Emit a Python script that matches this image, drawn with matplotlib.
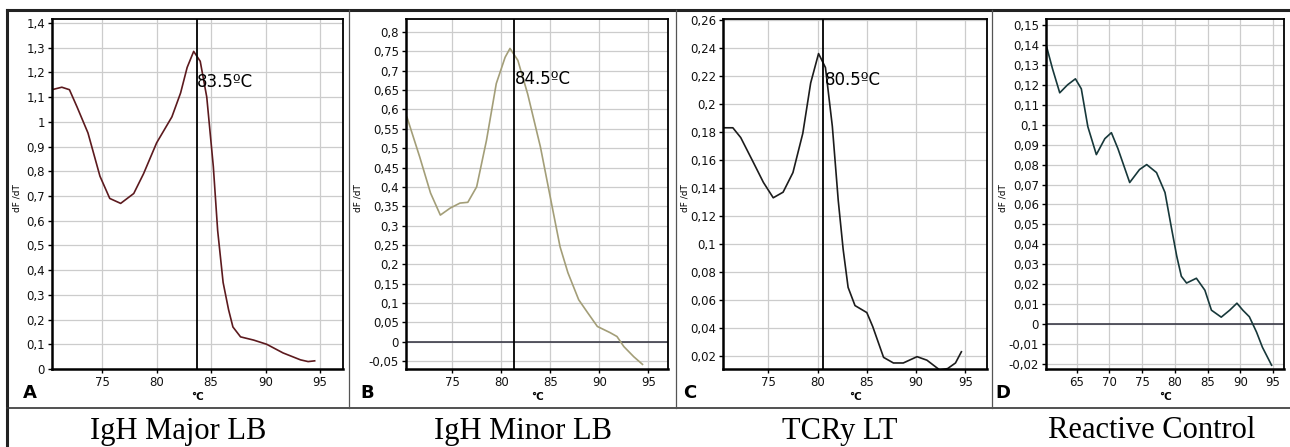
import matplotlib
matplotlib.use('Agg')
import matplotlib.pyplot as plt
from matplotlib.lines import Line2D
from matplotlib.ticker import FuncFormatter, MultipleLocator
import numpy as np

# Curvas de melting (dF/dT) - 4 paineis

# A - IgH Major LB
tempA = [70.4, 71.3, 72.0, 72.7, 73.7, 74.8, 75.7, 76.7, 77.9, 78.8, 80.0, 81.4, 82.2, 82.8, 83.4,
         84.0, 84.6, 85.2, 85.6, 86.1, 86.6, 87.0, 87.7, 88.9, 90.1, 91.6, 93.2, 93.9, 94.5]
dfA = [1.13, 1.14, 1.13, 1.06, 0.955, 0.78, 0.69, 0.67, 0.71, 0.79, 0.915, 1.02, 1.117, 1.22, 1.285,
       1.245, 1.10, 0.82, 0.56, 0.35, 0.24, 0.17, 0.13, 0.117, 0.10, 0.065, 0.037, 0.03, 0.033]

# B - IgH Minor LB
tempB = [70.4, 71.7, 72.8, 73.8, 74.8, 75.8, 76.6, 77.5, 78.5, 79.5, 80.4, 80.9, 81.7, 82.7,
         84.0, 85.3, 86.0, 86.8, 87.9, 88.8, 89.8, 91.1, 91.8, 92.5, 93.5, 94.4]
dfB = [0.58, 0.477, 0.384, 0.327, 0.345, 0.358, 0.36, 0.40, 0.52, 0.667, 0.735, 0.758, 0.727, 0.64,
       0.503, 0.335, 0.245, 0.178, 0.108, 0.075, 0.039, 0.023, 0.013, -0.013, -0.039, -0.059]

# C - TCRy LT
tempC = [70.4, 71.4, 72.2, 73.5, 74.5, 75.5, 76.5, 77.5, 78.5, 79.3, 80.1, 80.8, 81.5, 82.1,
         82.6, 83.1, 83.8, 85.0, 85.6, 86.7, 87.7, 88.7, 90.1, 91.1, 92.4, 93.2, 94.0, 94.6]
dfC = [0.183, 0.183, 0.176, 0.158, 0.144, 0.133, 0.137, 0.151, 0.179, 0.215, 0.236, 0.226, 0.184, 0.131,
       0.096, 0.069, 0.056, 0.051, 0.041, 0.019, 0.015, 0.015, 0.0195, 0.017, 0.010, 0.011, 0.015, 0.023]

# D - Reactive Control
tempD = [60.4, 61.3, 62.4, 63.6, 64.8, 65.7, 66.7, 68.0, 69.3, 70.3, 71.3, 73.1, 74.6, 75.7,
         77.2, 78.5, 79.5, 80.3, 81.0, 81.8, 83.3, 84.6, 85.6, 87.1, 88.4, 89.5, 90.4, 91.4,
         92.5, 93.4, 94.8]
dfD = [0.139, 0.128, 0.116, 0.120, 0.123, 0.118, 0.099, 0.085, 0.093, 0.096, 0.088, 0.071, 0.0775, 0.080,
       0.076, 0.066, 0.048, 0.034, 0.024, 0.0206, 0.023, 0.017, 0.007, 0.0035, 0.007, 0.0105, 0.007, 0.0037,
       -0.004, -0.0116, -0.0206]

temps = [tempA, tempB, tempC, tempD]
dfs = [dfA, dfB, dfC, dfD]
letras = ['A', 'B', 'C', 'D']
titulos = ['IgH Major LB', 'IgH Minor LB', 'TCRy LT', 'Reactive Control']
tm_linha = [83.7, 81.3, 80.6, None]
tm_texto = ['83.5ºC', '84.5ºC', '80.5ºC', None]
cores = ['#5c1a1e', '#a39e78', '#1c1c1c', '#17383a']

W, H = 1290, 447
fig = plt.figure(figsize=(12.9, 4.47), dpi=100)

# posicoes em pixels: (esquerda, direita)
caixas = [(52, 343), (406, 668), (723, 987), (1046, 1284)]
topo, base = 19, 369
xlims = [(70.4, 97.1), (70.3, 97.0), (70.4, 97.2), (60.3, 96.7)]
ylims = [(0, 1.416), (-0.071, 0.834), (0.0107, 0.2607), (-0.0225, 0.153)]
ypassos = [0.1, 0.05, 0.02, 0.01]
sep_x = [349, 676, 992]
titulo_x = [178, 523, 840, 1152]
letra_x = [30, 367, 690, 1003]
ylabel_x = [17, 358, 685, 1003]
texto_pos = [(197, 82), (515, 79), (825, 80)]


def virgula(v, pos):
    s = '{:g}'.format(round(v, 4))
    return s.replace('.', ',')


for i in range(4):
    l, r = caixas[i]
    ax = fig.add_axes([l / W, (H - base) / H, (r - l) / W, (base - topo) / H])
    ax.set_xlim(*xlims[i])
    ax.set_ylim(*ylims[i])
    ax.xaxis.set_major_locator(MultipleLocator(5))
    ax.yaxis.set_major_locator(MultipleLocator(ypassos[i]))
    ax.yaxis.set_major_formatter(FuncFormatter(virgula))
    ax.grid(True, color='#cccccc', lw=0.9)
    ax.set_axisbelow(True)
    for s in ['left', 'bottom']:
        ax.spines[s].set_linewidth(1.8)
    for s in ['top', 'right']:
        ax.spines[s].set_linewidth(1.3)
    ax.tick_params(labelsize=8.5, length=3, width=1, pad=2, labelcolor='#111111')

    if ylims[i][0] < 0:
        ax.axhline(0, color='#2e2e3c', lw=1.1)
    ax.plot(temps[i], dfs[i], color=cores[i], lw=1.2)
    if tm_linha[i] is not None:
        ax.axvline(tm_linha[i], color='k', lw=1.3)

    ax.set_xlabel('°C', fontsize=7.5, fontweight='bold', labelpad=2)
    fig.text(ylabel_x[i] / W, 1 - 198 / H, 'dF /dT', rotation=90, fontsize=6.5,
             ha='center', va='center')
    fig.text(letra_x[i] / W, 1 - 393 / H, letras[i], fontsize=13, fontweight='bold',
             ha='center', va='center')
    fig.text(titulo_x[i] / W, 1 - 431 / H, titulos[i], fontsize=22,
             family='Liberation Serif', ha='center', va='center')
    if tm_texto[i] is not None:
        tx, ty = texto_pos[i]
        fig.text(tx / W, 1 - ty / H, tm_texto[i], fontsize=12, ha='left', va='center')

# molduras
fig.add_artist(Line2D([7 / W, 1], [1 - 10 / H, 1 - 10 / H], color='#222222', lw=2.2))
fig.add_artist(Line2D([7 / W, 7 / W], [1 - 10 / H, 0], color='#222222', lw=2.2))
fig.add_artist(Line2D([7 / W, 1], [1 - 408 / H, 1 - 408 / H], color='#333333', lw=1.2))
for sx in sep_x:
    fig.add_artist(Line2D([sx / W, sx / W], [1 - 10 / H, 1 - 408 / H], color='#555555', lw=0.9))

plt.savefig('out.png', dpi=100)
